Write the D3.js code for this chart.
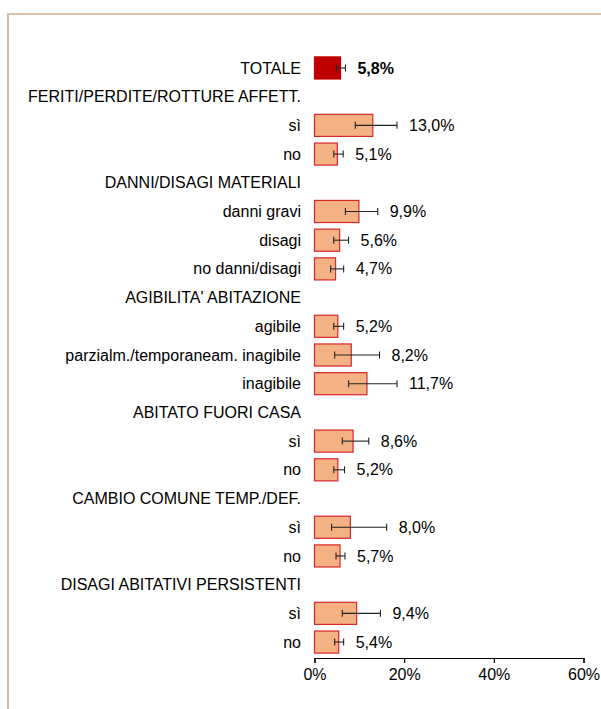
<!DOCTYPE html>
<html>
<head>
<meta charset="utf-8">
<script src="https://cdn.jsdelivr.net/npm/d3@7"></script>
<style>
  html, body { margin: 0; padding: 0; background: #fff; }
  svg { display: block; font-family: "Liberation Sans", Arial, sans-serif; }
</style>
</head>
<body>
<svg id="chart" width="601" height="709"></svg>
<script>
// Row labels (top to bottom), group headers have no value
const labels = [
  'TOTALE',
  'FERITI/PERDITE/ROTTURE AFFETT.', 'sì', 'no',
  'DANNI/DISAGI MATERIALI', 'danni gravi', 'disagi', 'no danni/disagi',
  "AGIBILITA' ABITAZIONE", 'agibile', 'parzialm./temporaneam. inagibile', 'inagibile',
  'ABITATO FUORI CASA', 'sì', 'no',
  'CAMBIO COMUNE TEMP./DEF.', 'sì', 'no',
  'DISAGI ABITATIVI PERSISTENTI', 'sì', 'no'
];
const rowKind = [
  'total',
  'header', 'item', 'item',
  'header', 'item', 'item', 'item',
  'header', 'item', 'item', 'item',
  'header', 'item', 'item',
  'header', 'item', 'item',
  'header', 'item', 'item'
];
const values = [5.8, null, 13.0, 5.1, null, 9.9, 5.6, 4.7, null, 5.2, 8.2, 11.7, null, 8.6, 5.2, null, 8.0, 5.7, null, 9.4, 5.4];
const errLow = [4.9, null, 9.1, 4.3, null, 6.9, 4.3, 3.6, null, 4.3, 4.5, 7.6, null, 6.2, 4.3, null, 3.8, 4.8, null, 6.2, 4.5];
const errHigh = [6.9, null, 18.4, 6.4, null, 14.1, 7.6, 6.5, null, 6.5, 14.5, 18.4, null, 12.1, 6.7, null, 16.1, 6.8, null, 14.7, 6.5];
const xTicks = [0, 20, 40, 60];

const svg = d3.select('#chart');

// Frame (left and top edges only)
svg.append('path')
  .attr('d', 'M8,709 L8,14 L601,14')
  .attr('fill', 'none')
  .attr('stroke', '#D0B08C')
  .attr('stroke-width', 1.6);

const x = d3.scaleLinear().domain([0, 60]).range([314.5, 583.5]);
const y = d3.scaleBand()
  .domain(d3.range(labels.length))
  .range([53.6, 656.4])
  .paddingInner(0.23)
  .paddingOuter(0.115);

const fmt = v => v.toFixed(1).replace('.', ',') + '%';

// Row labels
svg.append('g')
  .selectAll('text')
  .data(labels)
  .join('text')
  .attr('x', 301)
  .attr('y', (d, i) => y(i) + y.bandwidth() / 2)
  .attr('dy', '0.35em')
  .attr('text-anchor', 'end')
  .attr('font-size', 16)
  .attr('fill', '#000')
  .text(d => d);

const rows = d3.range(labels.length).filter(i => values[i] != null);

// Bars
svg.append('g')
  .selectAll('rect')
  .data(rows)
  .join('rect')
  .attr('x', x(0))
  .attr('y', i => y(i))
  .attr('width', i => x(values[i]) - x(0))
  .attr('height', y.bandwidth())
  .attr('fill', i => rowKind[i] === 'total' ? '#C00000' : '#F4B183')
  .attr('stroke', i => rowKind[i] === 'total' ? '#C00000' : '#D9262B')
  .attr('stroke-width', 1.2);

// Error bars
const eb = svg.append('g').attr('stroke', '#222').attr('stroke-width', 1.1);
rows.forEach(i => {
  const cy = y(i) + y.bandwidth() / 2;
  eb.append('line').attr('x1', x(errLow[i])).attr('x2', x(errHigh[i])).attr('y1', cy).attr('y2', cy);
  eb.append('line').attr('x1', x(errLow[i])).attr('x2', x(errLow[i])).attr('y1', cy - 3.5).attr('y2', cy + 3.5);
  eb.append('line').attr('x1', x(errHigh[i])).attr('x2', x(errHigh[i])).attr('y1', cy - 3.5).attr('y2', cy + 3.5);
});

// Value labels
svg.append('g')
  .selectAll('text')
  .data(rows)
  .join('text')
  .attr('x', i => x(errHigh[i]) + 12)
  .attr('y', i => y(i) + y.bandwidth() / 2)
  .attr('dy', '0.35em')
  .attr('font-size', 16)
  .attr('font-weight', i => rowKind[i] === 'total' ? 'bold' : 'normal')
  .attr('fill', '#000')
  .text(i => fmt(values[i]));

// X axis
const axis = svg.append('g')
  .attr('transform', 'translate(0,658)')
  .call(d3.axisBottom(x).tickValues(xTicks).tickSize(5).tickPadding(6).tickFormat(d => d + '%'));
axis.select('.domain').attr('stroke', '#000').attr('stroke-width', 1.2);
axis.selectAll('.tick line').attr('stroke', '#000').attr('stroke-width', 1.2);
axis.selectAll('.tick text')
  .attr('font-size', 16)
  .attr('font-family', '"Liberation Sans", Arial, sans-serif')
  .attr('fill', '#000');
</script>
</body>
</html>
